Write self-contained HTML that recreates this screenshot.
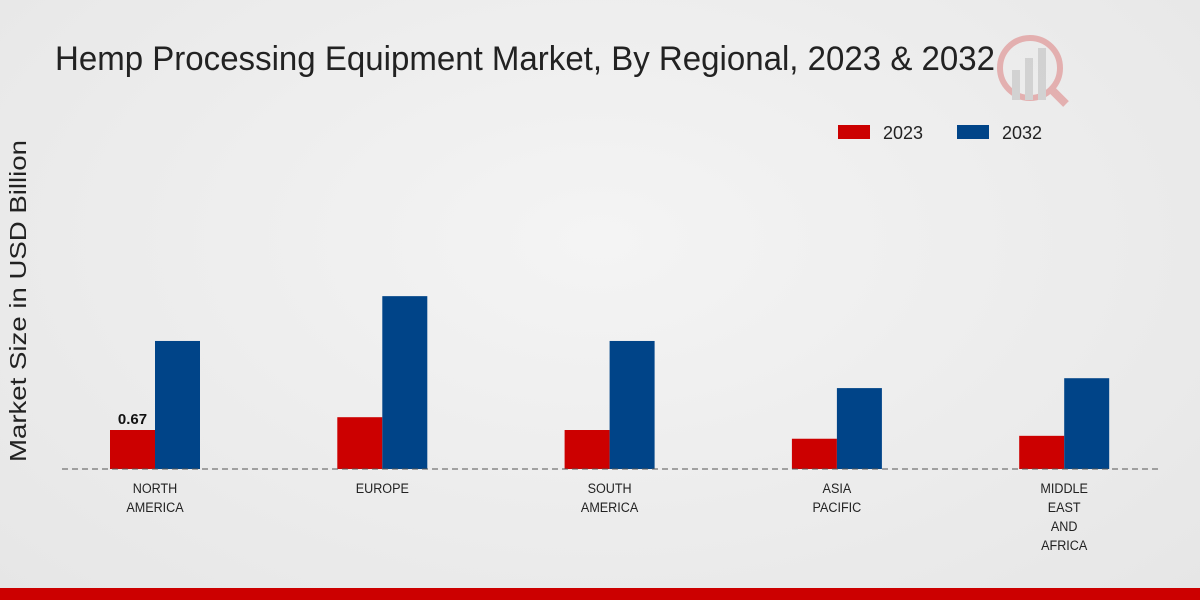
<!DOCTYPE html>
<html><head><meta charset="utf-8"><style>
body{margin:0;width:1200px;height:600px;overflow:hidden;font-family:"Liberation Sans",sans-serif;}
#wrap{position:relative;width:1200px;height:600px;background:radial-gradient(ellipse at 50% 40%,#f4f4f4 0%,#e6e6e6 100%);}
</style></head><body>
<div id="wrap">
<svg id="chart" width="1200" height="600">
<text x="55" y="70" font-size="34" fill="#222" textLength="940" lengthAdjust="spacingAndGlyphs">Hemp Processing Equipment Market, By Regional, 2023 &amp; 2032</text>
<g opacity="0.25">
<circle cx="1030" cy="68" r="30" fill="none" stroke="#c00" stroke-width="6"/>
<rect x="1012" y="70" width="8" height="30" fill="#888"/><rect x="1025" y="58" width="8" height="42" fill="#888"/><rect x="1038" y="48" width="8" height="52" fill="#888"/>
<line x1="1052" y1="90" x2="1066" y2="104" stroke="#c00" stroke-width="8"/>
</g>
<g>
<rect x="838" y="125" width="32" height="14" fill="#cc0000"/>
<text x="883" y="139" font-size="18" fill="#222">2023</text>
<rect x="957" y="125" width="32" height="14" fill="#004488"/>
<text x="1002" y="139" font-size="18" fill="#222">2032</text>
</g>
<text transform="translate(26,301) rotate(-90)" x="-161" y="0" font-size="23" fill="#222" textLength="322" lengthAdjust="spacingAndGlyphs">Market Size in USD Billion</text>
<g id="bars"></g>
<line x1="62" y1="469" x2="1160" y2="469" stroke="#555" stroke-dasharray="6,4"/>
<g id="labels"></g>
</svg>
<div style="position:absolute;left:0;top:588px;width:1200px;height:12px;background:#cc0000"></div>
</div>
<script>
const categories=[["NORTH","AMERICA"],["EUROPE"],["SOUTH","AMERICA"],["ASIA","PACIFIC"],["MIDDLE","EAST","AND","AFRICA"]];
const values2023=[0.67,0.89,0.67,0.52,0.57];
const values2032=[2.2,2.97,2.2,1.39,1.56];
const ns="http://www.w3.org/2000/svg";
const base=469, pxPerUnit=58.2, x0=155, step=227.3, bw=45;
const y=v=>base-v*pxPerUnit;
const xc=i=>x0+i*step;
const bars=document.getElementById('bars'), labels=document.getElementById('labels');
function rect(x,v,fill,name){const r=document.createElementNS(ns,'rect');
r.setAttribute('x',x);r.setAttribute('y',y(v));r.setAttribute('width',bw);r.setAttribute('height',base-y(v));r.setAttribute('fill',fill);


bars.appendChild(r);}
categories.forEach((c,i)=>{
rect(xc(i)-bw,values2023[i],'#cc0000','bar-2023-'+i);
rect(xc(i),values2032[i],'#004488','bar-2032-'+i);
c.forEach((ln,j)=>{const t=document.createElementNS(ns,'text');
t.setAttribute('x',xc(i));t.setAttribute('y',493+j*19);t.setAttribute('text-anchor','middle');t.setAttribute('font-size','14');t.setAttribute('fill','#222');
t.setAttribute('transform',`translate(${xc(i)},0) scale(0.9,1) translate(${-xc(i)},0)`);
t.textContent=ln;


labels.appendChild(t);});
});
const v=document.createElementNS(ns,'text');
v.setAttribute('x',xc(0)-bw/2);v.setAttribute('y',y(values2023[0])-6);v.setAttribute('text-anchor','middle');v.setAttribute('font-size','15');v.setAttribute('font-weight','bold');v.setAttribute('fill','#111');
v.textContent=values2023[0].toFixed(2);


labels.appendChild(v);
</script>
</body></html>
